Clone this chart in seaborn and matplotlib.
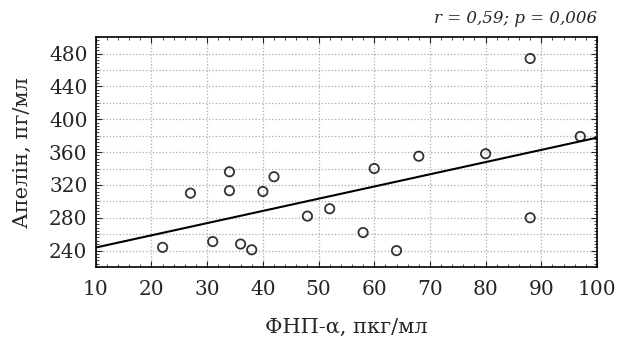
import pandas as pd
import matplotlib.pyplot as plt
import seaborn as sns
from matplotlib.ticker import MultipleLocator

# values
tnf = [22, 27, 31, 34, 34, 36, 38, 40, 42, 48, 52, 58, 60, 64, 68, 80, 88, 88, 97]
apelin = [244, 310, 251, 336, 313, 248, 241, 312, 330, 282, 291, 262, 340, 240, 355, 358, 474, 280, 379]

df = pd.DataFrame({'tnf': tnf, 'apelin': apelin})

sns.set_style("ticks")
plt.rcParams['font.family'] = ['DejaVu Serif']
plt.rcParams['mathtext.fontset'] = 'dejavuserif'

fig = plt.figure(figsize=(6.18, 3.38), dpi=100)
ax = fig.add_axes([0.155, 0.21, 0.811, 0.680])
ax.set_xlim(10, 100)
ax.set_ylim(220, 500)

sns.regplot(x='tnf', y='apelin', data=df, ax=ax, ci=None, truncate=False,
            scatter_kws={'facecolors': 'none', 'edgecolors': 'black', 's': 45,
                         'linewidths': 1.3, 'zorder': 3},
            line_kws={'color': 'black', 'linewidth': 1.5})

ax.xaxis.set_major_locator(MultipleLocator(10))
ax.xaxis.set_minor_locator(MultipleLocator(2))
ax.set_yticks([240, 280, 320, 360, 400, 440, 480])
ax.yaxis.set_minor_locator(MultipleLocator(4))

ax.grid(True, which='major', axis='x', color='#aaaaaa', linestyle=':', linewidth=0.9)
for yv in range(240, 500, 20):
    ax.axhline(yv, color='#aaaaaa', linestyle=':', linewidth=0.9, zorder=0)

ax.tick_params(which='both', direction='in', top=True, right=True, labelsize=14.5)
ax.tick_params(axis='x', which='major', pad=9)
ax.tick_params(axis='y', which='major', pad=6)
ax.tick_params(which='major', length=4, width=0.8)
ax.tick_params(which='minor', length=2, width=0.6)
for s in ax.spines.values():
    s.set_linewidth(1.2)
    s.set_color('black')

ax.set_xlabel('ФНП-α, пкг/мл', fontsize=15, labelpad=14)
ax.set_ylabel('Апелін, пг/мл', fontsize=15, labelpad=12)
ax.set_title('r = 0,59; p = 0,006', loc='right', fontsize=12, style='italic', pad=10)

plt.savefig('out.png', dpi=100)
